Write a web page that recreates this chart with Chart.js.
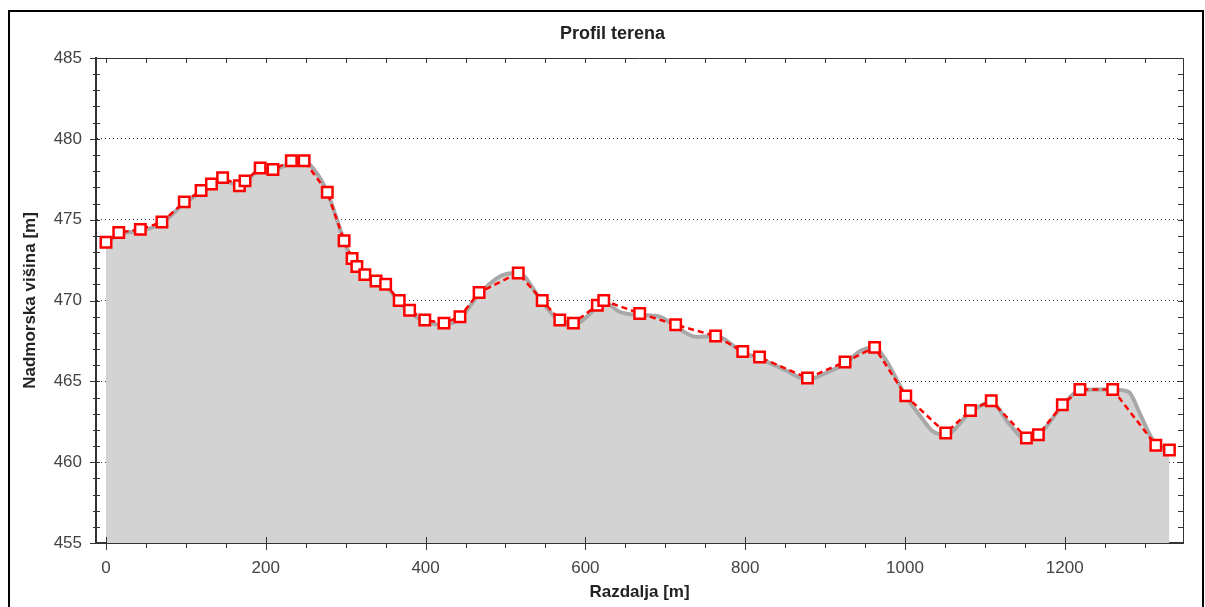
<!DOCTYPE html>
<html>
<head>
<meta charset="utf-8">
<script src="https://cdn.jsdelivr.net/npm/chart.js@4.4.1/dist/chart.umd.min.js"></script>
<style>
  html, body { margin: 0; padding: 0; background: #fff; overflow: hidden; }
  #frame { position: absolute; left: 8px; top: 10px; width: 1196px; height: 700px; border: 2px solid #000; box-sizing: border-box; }
  #wrap { position: absolute; left: 0; top: 0; width: 1205px; height: 607px; }
</style>
</head>
<body>
<div id="frame"></div>
<div id="wrap"><canvas id="profil"></canvas></div>
<script>
// merjene točke (rdeča črta)
const distances = [0, 16, 43, 70, 98, 119, 132, 146, 167, 174, 193, 209, 232, 248, 277,
  298, 308, 314, 324, 338, 350, 367, 380, 399, 423, 443, 467, 516, 546, 568,
  585, 615, 623, 668, 713, 763, 797, 818, 878, 925, 962, 1001, 1051, 1082, 1108,
  1152, 1167, 1197, 1219, 1260, 1314, 1331];
const elevations = [473.6, 474.2, 474.4, 474.85, 476.1, 476.8, 477.2, 477.6, 477.1, 477.4, 478.2, 478.1, 478.65, 478.65, 476.7,
  473.7, 472.6, 472.1, 471.6, 471.2, 471.0, 470.0, 469.4, 468.8, 468.6, 469.0, 470.5, 471.7, 470.0, 468.8,
  468.6, 469.7, 470.0, 469.2, 468.5, 467.8, 466.85, 466.5, 465.2, 466.2, 467.1, 464.1, 461.8, 463.2, 463.8,
  461.5, 461.7, 463.55, 464.5, 464.5, 461.05, 460.75];

// teren (siva ploskev)
const terrainDist = [0, 16, 43, 70, 98, 119, 132, 146, 160, 174, 193, 209, 232, 248, 262, 277,
  298, 308, 314, 324, 338, 350, 367, 380, 399, 423, 443, 467, 490, 502, 516,
  546, 568, 585, 615, 623, 643, 668, 693, 713, 739, 763, 797, 818, 850, 878,
  900, 925, 945, 962, 975, 1001, 1023, 1035, 1051, 1082, 1108, 1130, 1152, 1167,
  1177, 1197, 1219, 1240, 1260, 1280, 1294, 1310, 1331];
const terrainElev = [473.5, 474.1, 474.3, 474.8, 476.0, 476.7, 477.1, 477.5, 477.2, 477.3, 478.1, 478.1, 478.5, 478.6, 478.0, 476.7,
  473.7, 472.5, 472.0, 471.5, 471.1, 470.9, 469.9, 469.3, 468.7, 468.5, 468.9, 470.4, 471.4, 471.65, 471.7,
  469.9, 468.7, 468.5, 469.6, 469.9, 469.3, 469.1, 469.0, 468.4, 467.75, 467.8, 466.8, 466.4, 465.7, 465.1,
  465.5, 466.1, 466.9, 467.1, 466.4, 464.1, 462.6, 461.9, 461.7, 463.1, 463.7, 462.4, 461.4, 461.7,
  462.2, 463.5, 464.45, 464.5, 464.5, 464.35, 463.0, 461.4, 460.7];

const xTicks = [0, 200, 400, 600, 800, 1000, 1200];
const yTicks = [455, 460, 465, 470, 475, 480, 485];

const tickFont = { family: 'Liberation Sans', size: 17 };
const titleFont = { family: 'Liberation Sans', size: 17, weight: 'bold' };

// zgornji in desni rob z oznakami
const okvir = {
  id: 'okvir',
  afterDraw(chart) {
    const { ctx, chartArea: a, scales: { x, y } } = chart;
    ctx.save();
    ctx.strokeStyle = '#333';
    ctx.lineWidth = 1;
    ctx.beginPath();
    ctx.moveTo(a.left, a.top + 0.5);
    ctx.lineTo(a.right + 0.5, a.top + 0.5);
    ctx.lineTo(a.right + 0.5, a.bottom);
    ctx.stroke();

    ctx.beginPath();
    for (let v = yTicks[0]; v <= yTicks[yTicks.length - 1]; v++) {
      const py = Math.round(y.getPixelForValue(v)) + 0.5;
      const major = v % 5 === 0;
      ctx.moveTo(a.left - (major ? 6 : 3), py);
      ctx.lineTo(a.left + 4, py);
      ctx.moveTo(a.right - 5, py);
      ctx.lineTo(a.right, py);
    }
    for (let v = 0; v <= x.max; v += 50) {
      const px = Math.round(x.getPixelForValue(v)) + 0.5;
      const major = v % 200 === 0;
      ctx.moveTo(px, a.bottom - (major ? 6 : 0));
      ctx.lineTo(px, a.bottom + (major ? 7 : 5));
      ctx.moveTo(px, a.top);
      ctx.lineTo(px, a.top + 5);
    }
    ctx.stroke();
    ctx.restore();
  }
};

new Chart(document.getElementById('profil'), {
  type: 'line',
  data: {
    datasets: [{
      label: 'Točke',
      data: distances.map((d, i) => ({ x: d, y: elevations[i] })),
      borderColor: '#ff0000',
      borderWidth: 2.5,
      borderDash: [6, 4],
      pointStyle: 'rect',
      pointRadius: 7.4,
      pointBorderWidth: 2.5,
      pointBorderColor: '#ff0000',
      pointBackgroundColor: '#ffffff',
      tension: 0,
      fill: false,
      order: 0
    }, {
      label: 'Teren',
      data: terrainDist.map((d, i) => ({ x: d, y: terrainElev[i] })),
      borderColor: '#a8a8a8',
      borderWidth: 4,
      backgroundColor: '#d3d3d3',
      pointRadius: 0,
      cubicInterpolationMode: 'monotone',
      fill: 'start',
      order: 1
    }]
  },
  options: {
    responsive: true,
    maintainAspectRatio: false,
    animation: false,
    layout: { padding: { left: 42, top: 0, right: 22, bottom: 0 } },
    scales: {
      x: {
        type: 'linear',
        min: -12.5,
        max: 1348,
        afterBuildTicks: s => { s.ticks = xTicks.map(v => ({ value: v })); },
        afterFit: s => { s.height = 64; },
        grid: { display: false },
        border: { display: true, color: '#333', width: 2 },
        ticks: { font: tickFont, color: '#444', padding: 7, maxRotation: 0, callback: v => String(v) },
        title: { display: true, text: 'Razdalja [m]', font: titleFont, color: '#222', padding: { top: 0, bottom: 4 } }
      },
      y: {
        min: 455,
        max: 485,
        afterBuildTicks: s => { s.ticks = yTicks.map(v => ({ value: v })); },
        afterFit: s => { s.width = 54; },
        grid: { display: true, color: '#333', lineWidth: 1, drawTicks: false },
        border: { display: true, color: '#333', width: 2, dash: [1, 3] },
        ticks: { font: tickFont, color: '#444', padding: 14, callback: v => String(v) },
        title: { display: true, text: 'Nadmorska višina [m]', font: titleFont, color: '#222', padding: { top: -22, bottom: 0 } }
      }
    },
    plugins: {
      legend: { display: false },
      tooltip: { enabled: false },
      title: {
        display: true,
        text: 'Profil terena',
        font: { family: 'Liberation Sans', size: 18, weight: 'bold' },
        color: '#222',
        padding: { top: 23, bottom: 13.4 }
      }
    }
  },
  plugins: [okvir]
});
</script>
</body>
</html>
